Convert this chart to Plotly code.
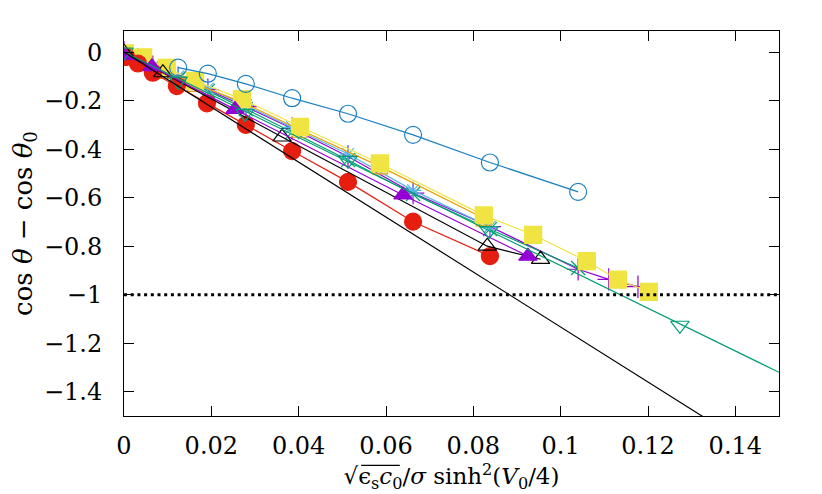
import plotly.graph_objects as go

# ---- data ----
plus_x = [0, 0.0032, 0.0066, 0.0124, 0.0192, 0.0279, 0.0385, 0.0513, 0.0662, 0.0838, 0.104, 0.111, 0.1177]
plus_y = [0, -0.03, -0.06, -0.105, -0.155, -0.225, -0.315, -0.43, -0.581, -0.719, -0.895, -0.937, -0.967]

cross_x = [0, 0.0032, 0.0066, 0.0124, 0.0192, 0.0279, 0.0385, 0.0513, 0.0662, 0.0838, 0.104]
cross_y = [0, -0.035, -0.065, -0.11, -0.16, -0.235, -0.33, -0.445, -0.585, -0.73, -0.89]

star_x = [0, 0.0032, 0.0066, 0.0124, 0.0192, 0.0279, 0.0385, 0.0513, 0.0662, 0.0838]
star_y = [0, -0.03, -0.06, -0.10, -0.15, -0.22, -0.31, -0.42, -0.57, -0.72]

osq_x = [0, 0.0044, 0.0098, 0.0163, 0.027, 0.0403, 0.0586, 0.0824]
osq_y = [-0.012, -0.034, -0.077, -0.131, -0.206, -0.32, -0.471, -0.685]

sq_x = [0.0002, 0.0044, 0.0098, 0.0163, 0.027, 0.0403, 0.0586, 0.0824, 0.0937, 0.106, 0.1131, 0.1202]
sq_y = [-0.005, -0.022, -0.065, -0.119, -0.194, -0.308, -0.459, -0.673, -0.753, -0.862, -0.938, -0.988]

ocirc_x = [0.0124, 0.0192, 0.0279, 0.0385, 0.0513, 0.0662, 0.0838, 0.104]
ocirc_y = [-0.064, -0.089, -0.131, -0.19, -0.254, -0.341, -0.455, -0.576]

circ_x = [0.0005, 0.0032, 0.0066, 0.0121, 0.019, 0.0279, 0.0385, 0.0513, 0.0662, 0.0838]
circ_y = [-0.02, -0.047, -0.085, -0.14, -0.211, -0.30, -0.408, -0.535, -0.699, -0.841]

otri_x = [0, 0.0089, 0.0362, 0.0832, 0.0954]
otri_y = [0, -0.085, -0.35, -0.80, -0.854]

tri_x = [0, 0.0064, 0.0254, 0.0639, 0.0925]
tri_y = [-0.014, -0.06, -0.236, -0.589, -0.841]

dtri_x = [0, 0.0124, 0.0277, 0.0513, 0.0836, 0.1273]
dtri_y = [0, -0.12, -0.253, -0.446, -0.736, -1.126]

fit_green_x = [0, 0.15]
fit_green_y = [0, -1.32]

theory_x = [0, 0.15]
theory_y = [0, -1.70]

ref_x = [0, 0.15]
ref_y = [-1, -1]

x_ticks = [0, 0.02, 0.04, 0.06, 0.08, 0.1, 0.12, 0.14]
y_ticks = [0, -0.2, -0.4, -0.6, -0.8, -1, -1.2, -1.4]

PURPLE = "#9400d3"
GREEN = "#009e73"
LBLUE = "#56b4e9"
ORANGE = "#e69f00"
YELLOW = "#f0e442"
BLUE = "#1a80c0"
RED = "#e51e10"
BLACK = "#000000"

fig = go.Figure()

def series(x, y, color, symbol, size, mode="lines+markers", lw=1.2, mlw=1.2):
    fig.add_trace(go.Scatter(
        x=x, y=y, mode=mode,
        line=dict(color=color, width=lw),
        marker=dict(symbol=symbol, size=size, color=color,
                    line=dict(color=color, width=mlw)),
        showlegend=False, cliponaxis=True))

series(plus_x, plus_y, PURPLE, "cross-thin-open", 16)
series(cross_x, cross_y, GREEN, "x-thin-open", 14)
series(star_x, star_y, LBLUE, "asterisk-open", 14)
series(osq_x, osq_y, ORANGE, "square-open", 15)
series(sq_x, sq_y, YELLOW, "square", 17)
series(ocirc_x, ocirc_y, BLUE, "circle-open", 17)
series(circ_x, circ_y, RED, "circle", 17)
series(otri_x, otri_y, BLACK, "triangle-up-open", 16)
series(tri_x, tri_y, PURPLE, "triangle-up", 16)
series(dtri_x, dtri_y, GREEN, "triangle-down-open", 16, mode="markers")

fig.add_trace(go.Scatter(x=fit_green_x, y=fit_green_y, mode="lines",
                         line=dict(color=GREEN, width=1.2), showlegend=False))
fig.add_trace(go.Scatter(x=theory_x, y=theory_y, mode="lines",
                         line=dict(color=BLACK, width=1.2), showlegend=False))
fig.add_trace(go.Scatter(x=ref_x, y=ref_y, mode="lines",
                         line=dict(color=BLACK, width=3, dash="3px,3.7px"),
                         showlegend=False))

FONT = "DejaVu Serif"

# page body has an 8px default margin, so the figure is 8px smaller
fig.update_layout(
    width=814, height=486,
    margin=dict(l=116, r=43, t=23, b=78),
    paper_bgcolor="white", plot_bgcolor="white",
    font=dict(family=FONT, size=24, color="black"),
    xaxis=dict(
        range=[0, 0.15], tickvals=x_ticks, ticks="inside", ticklen=10,
        tickcolor="black", showline=True, linecolor="black", linewidth=1,
        mirror="allticks", showgrid=False, zeroline=False, automargin=False,
        ticklabelstandoff=8, tickfont=dict(size=24),
        title=dict(text="√ϵ<sub>s</sub><i>c</i><sub>0</sub>/<i>σ</i> sinh<sup>2</sup>(<i>V</i><sub>0</sub>/4)",
                   standoff=6, font=dict(family=FONT, size=23)),
    ),
    yaxis=dict(
        range=[-1.5, 0.087], tickvals=y_ticks, ticks="inside", ticklen=10,
        tickcolor="black", showline=True, linecolor="black", linewidth=1,
        mirror="allticks", showgrid=False, zeroline=False, automargin=False,
        ticklabelstandoff=16, tickfont=dict(size=24),
        title=dict(text="cos <i>θ</i> − cos <i>θ</i><sub>0</sub>",
                   standoff=4, font=dict(family=FONT, size=26)),
    ),
    shapes=[dict(type="line", xref="paper", yref="paper",
                 x0=0.362, x1=0.421, y0=-0.128, y1=-0.128,
                 line=dict(color="black", width=1.2))],
)

fig.write_html("out.html")
